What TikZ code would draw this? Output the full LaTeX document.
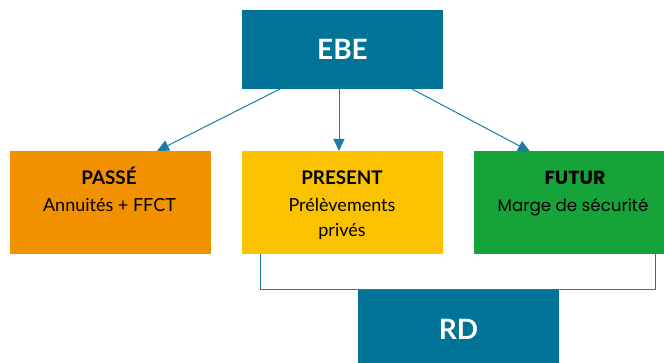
\documentclass[tikz,border=0pt]{standalone}
\usepackage{fontspec}
\setmainfont{Lato}
\newfontfamily\futfont{Poppins}
\usetikzlibrary{arrows.meta}
\definecolor{teal}{HTML}{007396}
\definecolor{lineteal}{HTML}{1A7EA0}
\definecolor{orng}{HTML}{F29100}
\definecolor{yell}{HTML}{FBC200}
\definecolor{grn}{HTML}{16A43A}
\tikzset{
  box/.style={rectangle, inner sep=0pt, outer sep=0pt, minimum width=201pt, minimum height=103pt},
  topbox/.style={rectangle, inner sep=0pt, outer sep=0pt, minimum width=201pt, minimum height=79pt, fill=teal, text=white, font=\fontsize{28}{30}\selectfont\bfseries},
  ttl/.style={anchor=base, inner sep=0pt, font=\fontsize{18.8}{20}\selectfont\bfseries},
  txt/.style={anchor=base, inner sep=0pt, font=\fontsize{18}{20}\selectfont},
  arr/.style={draw=lineteal, line width=1pt, -{Triangle[length=12pt,width=11pt]}},
  conn/.style={draw=lineteal, line width=1pt}
}
\begin{document}
\begin{tikzpicture}[x=1pt,y=-1pt]
\useasboundingbox (0,0) rectangle (664,363);
\clip (0,0) rectangle (664,363);
\node[topbox] (ebe) at (342.5,49.5) {EBE};
\node[box, fill=orng] (passe) at (110.5,202.5) {};
\node[box, fill=yell] (present) at (342.5,202.5) {};
\node[box, fill=grn] (futur) at (574.5,203) {};
% connector behind RD
\coordinate (c1) at ([xshift=18.5pt]present.south west);
\coordinate (c2) at ([xshift=-19.5pt]futur.south east);
\draw[conn] (c1) -- (c1 |- 0,289.5) -- (c2 |- 0,289.5) -- (c2);
\node[topbox] (rd) at (458.5,329.5) {RD};
% arrows
\draw[arr] ([xshift=-62.5pt]ebe.south) -- ([xshift=46.5pt]passe.north);
\draw[arr] ([xshift=-3.5pt]ebe.south) -- ([xshift=-3.5pt]present.north);
\draw[arr] ([xshift=69.5pt]ebe.south) -- ([xshift=-44.5pt]futur.north);
% texts
\node[ttl] (t1) at (109,185) {PASSÉ};
\node[txt] (s1) at (109.5,211.7) {Annuités + FFCT};
\node[ttl] (t2) at (342,185) {PRESENT};
\node[txt] (s2) at (342,211.7) {Prélèvements};
\node[txt] (s3) at (342,236.7) {privés};
\node[ttl, font=\futfont\fontsize{19}{20}\selectfont\bfseries] (t3) at (575,185) {FUTUR};
\node[txt, font=\futfont\fontsize{16.7}{20}\selectfont] (s4) at (573,211.7) {Marge de sécurité};
\end{tikzpicture}
\end{document}
